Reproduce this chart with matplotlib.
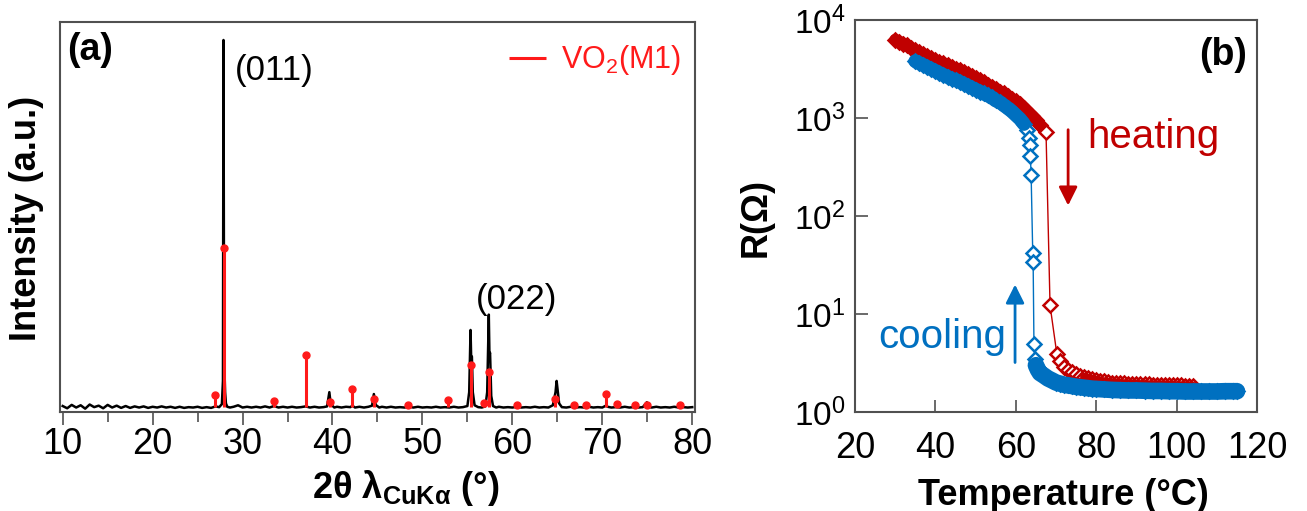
import numpy as np
import matplotlib
matplotlib.use('Agg')
import matplotlib.pyplot as plt
from matplotlib.ticker import NullLocator, FixedLocator

plt.rcParams['font.family'] = ['Liberation Sans', 'DejaVu Sans']
plt.rcParams['mathtext.fontset'] = 'custom'
plt.rcParams['mathtext.rm'] = 'Liberation Sans'
plt.rcParams['mathtext.it'] = 'Liberation Sans:italic'
plt.rcParams['mathtext.bf'] = 'Liberation Sans:bold'

# ---- (a) XRD pattern (measured, black) ----
tth = [10.0, 10.5, 11.0, 11.5, 12.0, 12.5, 13.0, 13.5, 14.0, 14.5, 15.0, 15.5, 16.0, 16.5,
       17.0, 17.5, 18.0, 18.5, 19.0, 19.5, 20.0, 20.5, 21.0, 21.5, 22.0, 22.5, 23.0, 23.5,
       24.0, 24.5, 25.0, 25.5, 26.0, 26.5, 27.0, 27.4, 27.7, 27.82, 27.88, 27.94, 28.0, 28.06,
       28.15, 28.3, 28.6, 29.0, 29.5, 30.0, 30.5, 31.0, 31.5, 32.0, 32.5, 33.0, 33.5, 34.0,
       34.5, 35.0, 35.5, 36.0, 36.5, 37.0, 37.5, 38.0, 38.5, 39.0, 39.4, 39.65, 39.8, 40.2,
       40.5, 41.0, 41.5, 42.0, 42.2, 42.5, 43.0, 43.5, 44.0, 44.4, 44.6, 44.8, 45.2, 45.5,
       46.0, 46.5, 47.0, 47.5, 48.0, 48.5, 49.0, 49.5, 50.0, 50.5, 51.0, 51.5, 52.0, 52.5,
       53.0, 53.5, 54.0, 54.5, 55.0, 55.2, 55.35, 55.42, 55.5, 55.6, 55.8, 56.2, 56.6, 57.0,
       57.2, 57.38, 57.45, 57.52, 57.65, 57.85, 58.2, 58.5, 59.0, 59.5, 60.0, 60.5, 61.0, 61.5,
       62.0, 62.5, 63.0, 63.5, 64.0, 64.5, 64.8, 64.92, 65.05, 65.2, 65.5, 66.0, 66.5, 67.0,
       67.5, 68.0, 68.5, 69.0, 69.5, 70.0, 70.4, 70.6, 71.0, 71.5, 72.0, 72.5, 73.0, 73.5,
       74.0, 74.5, 74.95, 75.2, 75.5, 76.0, 76.5, 77.0, 77.5, 78.0, 78.5, 79.0, 79.5, 80.0]
intensity = [23, 17, 26, 19, 25, 16, 27, 20, 24, 17, 26, 19, 24, 18,
             23, 18, 22, 19, 22, 18, 21, 19, 22, 19, 21, 18, 21, 18,
             20, 19, 21, 18, 20, 18, 22, 20, 28, 90, 1000, 260, 110, 60,
             30, 21, 19, 21, 25, 19, 21, 19, 21, 19, 22, 19, 23, 19,
             21, 19, 21, 19, 20, 22, 19, 21, 19, 20, 22, 60, 28, 19,
             21, 19, 21, 20, 24, 19, 21, 19, 21, 24, 55, 26, 19, 21,
             19, 21, 19, 20, 19, 21, 19, 21, 19, 20, 19, 21, 19, 20,
             19, 21, 19, 20, 23, 60, 226, 150, 155, 60, 25, 20, 19, 22,
             60, 267, 160, 165, 50, 23, 19, 21, 19, 20, 19, 21, 19, 20,
             19, 21, 19, 20, 19, 25, 60, 90, 62, 30, 20, 19, 21, 19,
             20, 19, 21, 19, 20, 19, 24, 21, 19, 20, 19, 21, 19, 20,
             19, 20, 33, 20, 19, 21, 19, 20, 19, 21, 19, 20, 19, 20]

# ---- (a) VO2(M1) reference sticks (red) ----
ref_tth = [26.9, 27.9, 33.5, 37.0, 39.7, 42.2, 44.6, 48.4, 52.8, 55.4, 56.9,
           57.4, 60.5, 64.7, 66.8, 68.2, 70.4, 71.6, 73.6, 75.0, 78.6]
ref_top = [52, 445, 36, 160, 34, 68, 42, 26, 40, 133, 32,
           114, 26, 42, 26, 26, 56, 28, 26, 26, 26]
baseline = 20

# ---- (b) R(T) heating (red) ----
T_heat = [30, 31, 32, 33, 34, 35, 36, 37, 38, 39, 40, 41, 42, 43, 44, 45, 46, 47, 48, 49,
          50, 51, 52, 53, 54, 55, 56, 57, 58, 59, 60, 61, 62, 63, 64, 65, 66, 67.5, 68.5,
          70.2, 71, 72, 73, 74, 75, 76, 77, 78, 79, 80, 81, 82, 83, 84, 85, 86, 87, 88, 89,
          90, 91, 92, 93, 94, 95, 96, 97, 98, 99, 100, 101, 102, 103, 104]
R_heat = [6310, 6030, 5750, 5500, 5130, 4900, 4680, 4470, 4270, 4070, 3890, 3720, 3630, 3470,
          3310, 3160, 3090, 2950, 2820, 2690, 2570, 2450, 2340, 2190, 2090, 2000, 1860, 1780,
          1660, 1550, 1480, 1380, 1260, 1150, 1050, 955, 850, 725, 12.3,
          3.9, 3.3, 2.9, 2.7, 2.55, 2.45, 2.35, 2.28, 2.22, 2.17, 2.12, 2.08, 2.05, 2.02, 2.0,
          1.98, 1.97, 1.96, 1.95, 1.94, 1.93, 1.92, 1.92, 1.91, 1.9, 1.9, 1.89, 1.89, 1.88,
          1.88, 1.87, 1.87, 1.86, 1.86, 1.85]

# ---- (b) R(T) cooling (blue) ----
T_cool = [35, 36, 37, 38, 39, 40, 41, 42, 43, 44, 45, 46, 47, 48, 49, 50, 51, 52, 53, 54,
          55, 56, 57, 58, 59, 60, 61, 62, 62.8, 63.2, 63.4, 63.6, 63.8, 64.2, 64.3, 64.5,
          64.7, 65, 65.5, 66, 67, 68, 69, 70, 71, 72, 73, 74, 75, 76, 77, 78, 79, 80, 82, 84,
          86, 88, 90, 92, 94, 96, 98, 100, 102, 104, 106, 108, 110, 112, 114, 115]
R_cool = [3800, 3630, 3470, 3310, 3160, 3020, 2880, 2750, 2630, 2510, 2450, 2340, 2240, 2140,
          2040, 1950, 1860, 1780, 1700, 1620, 1510, 1450, 1350, 1260, 1170, 1070, 980, 870,
          760, 630, 525, 410, 263, 42, 34, 5.0, 3.5, 3.0, 2.7, 2.5, 2.35, 2.2, 2.1, 2.0, 1.95,
          1.9, 1.87, 1.84, 1.81, 1.79, 1.77, 1.75, 1.73, 1.72, 1.7, 1.68, 1.67, 1.66, 1.66,
          1.65, 1.64, 1.64, 1.63, 1.63, 1.62, 1.62, 1.62, 1.62, 1.62, 1.63, 1.63, 1.63]

RED = '#C00000'
BLUE = '#0070C0'
XRD_RED = '#ff1a1a'
FRAME = '#505050'

fig = plt.figure(figsize=(13.07, 5.11), dpi=100)
axa = fig.add_axes([0.0459, 0.1937, 0.4858, 0.7632])
axb = fig.add_axes([0.6542, 0.1937, 0.3076, 0.7671])

# ---------------- panel (a) ----------------
axa.plot(tth, intensity, color='black', lw=1.8, zorder=2)
axa.vlines(ref_tth, baseline, ref_top, color=XRD_RED, lw=2.2, zorder=3, label='VO$_2$(M1)')
axa.plot(ref_tth, ref_top, 'o', color=XRD_RED, ms=5, zorder=3)
axa.set_xlim(9.7, 80.3)
axa.set_ylim(7, 1048)
axa.set_yticks([])
axa.set_xticks([10, 20, 30, 40, 50, 60, 70, 80])
axa.xaxis.set_minor_locator(FixedLocator([15, 25, 35, 45, 55, 65, 75]))
axa.tick_params(axis='x', which='major', direction='out', length=9, width=1.2,
                color=FRAME, labelsize=26, pad=2)
axa.tick_params(axis='x', which='minor', direction='out', length=7, width=1.2, color=FRAME)
for s in axa.spines.values():
    s.set_color(FRAME)
    s.set_linewidth(1.5)
axa.set_xlabel(r'2θ λ$_{\mathbf{CuKα}}$ (°)', fontsize=26, fontweight='bold')
axa.xaxis.set_label_coords(0.545, -0.195)
axa.xaxis.label.set_va('center')
axa.set_ylabel('Intensity (a.u.)', fontsize=26, fontweight='bold')
axa.yaxis.set_label_coords(-0.052, 0.497)
axa.yaxis.label.set_va('center')
axa.text(0.011, 0.975, '(a)', transform=axa.transAxes, fontsize=27, fontweight='bold',
         ha='left', va='top')
axa.text(29.1, 918, '(011)', fontsize=25, ha='left', va='center')
axa.text(55.9, 307, '(022)', fontsize=25, ha='left', va='center')
axa.legend(loc='upper right', bbox_to_anchor=(1.012, 1.0), frameon=False, fontsize=22,
           handlelength=1.2, handletextpad=0.5, borderaxespad=0.3, labelcolor=XRD_RED)

# ---------------- panel (b) ----------------
axb.plot(T_heat, R_heat, '-D', color=RED, mfc='white', mec=RED, ms=7, mew=1.8, lw=1.0,
         zorder=2)
# dense measurement points overlap into solid bands
axb.plot(T_heat[:37], R_heat[:37], color=RED, lw=8.5, solid_capstyle='round', zorder=2.5)
axb.plot(T_heat[46:], R_heat[46:], color=RED, lw=6, solid_capstyle='round', zorder=2.5)
axb.plot(T_cool, R_cool, '-D', color=BLUE, mfc='white', mec=BLUE, ms=7, mew=1.8, lw=1.0,
         zorder=3)
axb.plot(T_cool[:28], R_cool[:28], color=BLUE, lw=10, solid_capstyle='round', zorder=3.5)
axb.plot(T_cool[37:], R_cool[37:], color=BLUE, lw=12, solid_capstyle='round', zorder=3.5)
axb.set_yscale('log')
axb.set_xlim(20, 120)
axb.set_ylim(1, 1e4)
axb.set_xticks([20, 40, 60, 80, 100, 120])
axb.set_yticks([1, 10, 100, 1000, 10000])
axb.yaxis.set_minor_locator(NullLocator())
axb.tick_params(axis='both', which='major', direction='in', length=9, width=1.2,
                color=FRAME, labelsize=26)
axb.tick_params(axis='x', pad=14)
axb.tick_params(axis='y', pad=7, labelsize=24)
for s in axb.spines.values():
    s.set_color(FRAME)
    s.set_linewidth(1.5)
    s.set_zorder(5)
axb.set_xlabel('Temperature (°C)', fontsize=26, fontweight='bold')
axb.xaxis.set_label_coords(0.517, -0.214)
axb.xaxis.label.set_va('center')
axb.set_ylabel('R(Ω)', fontsize=26, fontweight='bold')
axb.yaxis.set_label_coords(-0.246, 0.495)
axb.yaxis.label.set_va('center')
axb.text(0.975, 0.957, '(b)', transform=axb.transAxes, fontsize=27, fontweight='bold',
         ha='right', va='top')
axb.text(77.7, 494, 'heating', color=RED, fontsize=29, ha='left', va='baseline')
axb.text(25.7, 4.5, 'cooling', color=BLUE, fontsize=29, ha='left', va='baseline')
axb.annotate('', xy=(73, 128), xytext=(73, 760),
             arrowprops=dict(arrowstyle='-|>', color=RED, lw=2, mutation_scale=28,
                             shrinkA=0, shrinkB=0))
axb.annotate('', xy=(59.8, 20), xytext=(59.8, 3.2),
             arrowprops=dict(arrowstyle='-|>', color=BLUE, lw=2, mutation_scale=28,
                             shrinkA=0, shrinkB=0))

fig.savefig('out.png', dpi=100)
